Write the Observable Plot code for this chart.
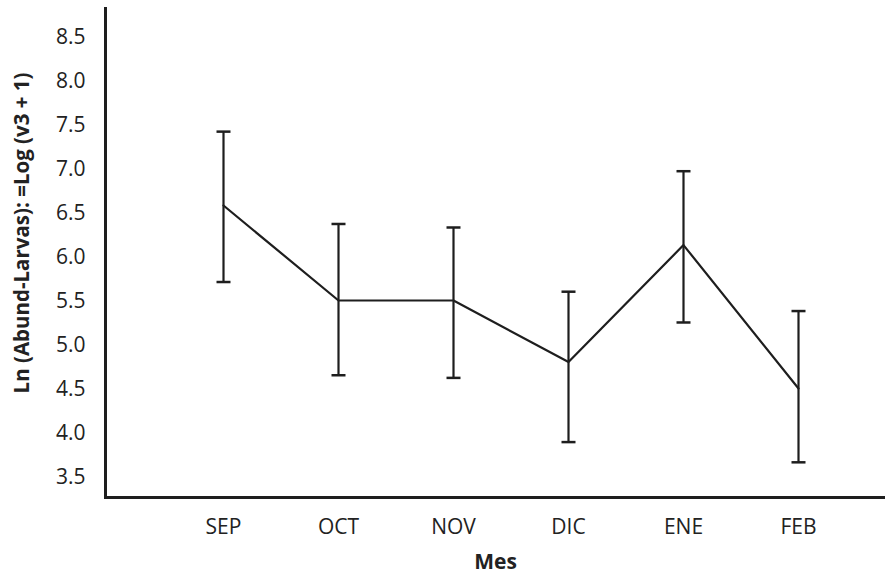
<!DOCTYPE html>
<html>
<head>
<meta charset="utf-8">
<script src="https://cdn.jsdelivr.net/npm/d3@7"></script>
<script src="https://cdn.jsdelivr.net/npm/@observablehq/plot@0.6"></script>
<style>
  html, body { margin: 0; padding: 0; background: #fff; }
</style>
</head>
<body>
<div id="chart"></div>
<script>
const meses = ["SEP", "OCT", "NOV", "DIC", "ENE", "FEB"];
const media = [6.59, 5.51, 5.51, 4.81, 6.14, 4.51];
const superior = [7.43, 6.38, 6.34, 5.61, 6.98, 5.39];
const inferior = [5.72, 4.66, 4.63, 3.90, 5.26, 3.67];
const yTicks = [3.5, 4.0, 4.5, 5.0, 5.5, 6.0, 6.5, 7.0, 7.5, 8.0, 8.5];
const yTitle = "Ln (Abund-Larvas): =Log (v3 + 1)";
const xTitle = "Mes";

const data = meses.map((m, i) => ({mes: m, media: media[i], hi: superior[i], lo: inferior[i]}));

const yMin = 3.27, yMax = 8.83;
const ink = "#1e1e1e";
const font = "'Open Sans', sans-serif";

const capSymbol = {
  draw(context, size) {
    const w = Math.sqrt(size / Math.PI);
    context.moveTo(-w, 0);
    context.lineTo(w, 0);
  }
};

const chart = Plot.plot({
  width: 885,
  height: 585,
  marginLeft: 105,
  marginRight: 0,
  marginTop: 8,
  marginBottom: 88,
  style: {fontFamily: font, fontSize: "21px", color: "#222", background: "#fff"},
  x: {type: "point", domain: meses, range: [221, 799], padding: 0},
  y: {domain: [yMin, yMax]},
  marks: [
    Plot.axisY({ticks: yTicks, tickSize: 0, tickPadding: 20, tickFormat: d => d.toFixed(1), label: null, fontSize: 21}),
    Plot.axisX({tickSize: 0, tickPadding: 22, label: null, fontSize: 21}),
    Plot.ruleY([yMin], {stroke: ink, strokeWidth: 3}),
    Plot.frame({anchor: "left", stroke: ink, strokeWidth: 3}),
    Plot.ruleX(data, {x: "mes", y1: "lo", y2: "hi", stroke: ink, strokeWidth: 2.2}),
    Plot.dot(data, {x: "mes", y: "hi", symbol: capSymbol, r: 7, stroke: ink, strokeWidth: 2.5, fill: "none"}),
    Plot.dot(data, {x: "mes", y: "lo", symbol: capSymbol, r: 7, stroke: ink, strokeWidth: 2.5, fill: "none"}),
    Plot.line(data, {x: "mes", y: "media", stroke: ink, strokeWidth: 2.2}),
    Plot.text([yTitle], {frameAnchor: "left", dx: -83, dy: -20, rotate: -90, textAnchor: "middle", fontWeight: "bold", fontSize: 20.5, fill: "#222"}),
    Plot.text([xTitle], {frameAnchor: "bottom", dy: 71, textAnchor: "middle", fontWeight: "bold", fontSize: 21, fill: "#222"})
  ]
});

document.getElementById("chart").appendChild(chart);
</script>
</body>
</html>
